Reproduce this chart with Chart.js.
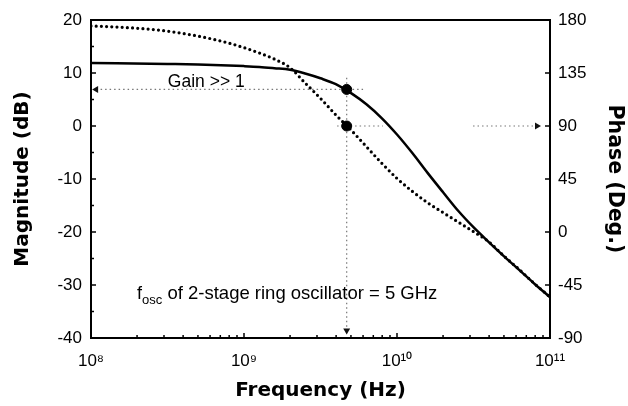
<!DOCTYPE html>
<html>
<head>
<meta charset="utf-8">
<script src="https://cdn.jsdelivr.net/npm/chart.js@4.4.1/dist/chart.umd.min.js"></script>
<style>
  html, body { margin: 0; padding: 0; background: #fff; }
  #wrap { width: 628px; height: 406px; }
</style>
</head>
<body>
<div id="wrap"><canvas id="c" width="628" height="406"></canvas></div>
<script>
// ---- Data ----
// Magnitude curve (solid, left axis, dB)
const magFreqHz = [1e8, 3.16e8, 5.0e8, 1e9, 1.26e9, 1.58e9, 2.0e9, 2.51e9, 3.16e9, 3.98e9, 5.01e9, 6.31e9, 7.94e9,
  1e10, 1.26e10, 1.58e10, 2.0e10, 2.51e10, 3.16e10, 3.98e10, 5.01e10, 6.31e10, 7.94e10, 1e11];
const magnitudeDb = [11.9, 11.7, 11.6, 11.3, 11.15, 10.9, 10.6, 9.9, 9.0, 7.9, 6.2, 4.1, 1.5,
  -1.6, -5.1, -8.8, -12.5, -16.0, -19.1, -21.9, -24.6, -27.2, -29.8, -32.3];

// Phase curve (dotted, right axis, degrees)
const phaseFreqHz = [1e8, 1.26e8, 1.58e8, 2.0e8, 2.51e8, 3.16e8, 3.98e8, 5.01e8, 6.31e8, 7.94e8,
  1e9, 1.26e9, 1.58e9, 2.0e9, 2.51e9, 3.16e9, 3.98e9, 5.01e9, 6.31e9, 7.94e9,
  1e10, 1.26e10, 1.58e10, 2.0e10, 2.51e10, 3.16e10, 3.98e10, 5.01e10, 6.31e10, 7.94e10, 1e11];
const phaseDeg = [175, 174.4, 173.8, 173.0, 172.0, 170.5, 168.6, 166.3, 163.6, 160.4,
  156.5, 152, 146.8, 139.5, 126.5, 113.5, 99.5, 86.5, 72.5, 58.5,
  45.5, 34.5, 25, 16.5, 8.5, 0.3, -8.3, -20.5, -32, -44, -55.2];

// Oscillation frequency markers
const oscFreqHz = [4.69e9];
const oscMagnitudeDb = [6.9];
const oscPhaseDeg = [90];

// Guide lines (dotted, with arrowheads)
const gainGuideFreqHz = [1.08e8, 6.0e9];
const gainGuideDb = [6.9, 6.9];
const phaseGuideFreqHz = [4.06e9, 8.09e9, null, 3.14e10, 8.22e10];
const phaseGuideDeg = [90, 90, null, 90, 90];
const oscGuideFreqHz = [4.69e9, 4.69e9];
const oscGuideDb = [9.1, -38.6];

// Axes
const xTickValues = [1e8, 1e9, 1e10, 1e11];
const xTickLabels = ['10\u2078', '10\u2079', '10\u00B9\u2070', '10\u00B9\u00B9'];
const magTickValues = [-40, -30, -20, -10, 0, 10, 20];
const phaseTickValues = [-90, -45, 0, 45, 90, 135, 180];

const toXY = (xs, ys) => xs.map((v, i) => (v === null ? {x: null, y: null} : {x: v, y: ys[i]}));

const TICK_FONT = {family: '"Liberation Sans", Arial, sans-serif', size: 17};
const TITLE_FONT = {family: '"DejaVu Sans", sans-serif', size: 20, weight: 'bold'};
const TITLE_FONT_R = {family: '"DejaVu Sans", sans-serif', size: 20.5, weight: 'bold'};

Chart.defaults.color = '#000';

const decor = {
  id: 'decor',
  afterDraw(chart) {
    const {ctx, chartArea: a, scales} = chart;
    const x = scales.x, y = scales.y, y2 = scales.y2;
    ctx.save();
    ctx.strokeStyle = '#000';
    ctx.lineWidth = 2;
    ctx.strokeRect(a.left, a.top, a.right - a.left, a.bottom - a.top);
    ctx.lineWidth = 1.5;
    const seg = (x1, y1, x2, y2_) => { ctx.beginPath(); ctx.moveTo(x1, y1); ctx.lineTo(x2, y2_); ctx.stroke(); };
    // left axis inner ticks
    for (let v = -35; v < 20; v += 5) {
      const py = y.getPixelForValue(v);
      seg(a.left, py, a.left + (v % 10 === 0 ? 5 : 3), py);
    }
    // right axis inner ticks
    for (let v = -45; v < 180; v += 45) {
      const py = y2.getPixelForValue(v);
      seg(a.right, py, a.right - 5, py);
    }
    // bottom axis inner ticks (log minor)
    for (let d = 8; d < 11; d++) {
      for (let k = 1; k < 10; k++) {
        const v = k * Math.pow(10, d);
        if (v <= 1e8) continue;
        const px = x.getPixelForValue(v);
        seg(px, a.bottom, px, a.bottom - (k === 1 ? 5 : 3));
      }
    }
    // annotations
    ctx.fillStyle = '#000';
    ctx.textBaseline = 'alphabetic';
    ctx.textAlign = 'left';
    ctx.font = '17.5px "Liberation Sans", Arial, sans-serif';
    ctx.fillText('Gain >> 1', x.getPixelForValue(3.18e8), y.getPixelForValue(7.3));
    let px = x.getPixelForValue(2.0e8);
    const py = y.getPixelForValue(-32.6);
    ctx.font = '18px "Liberation Sans", Arial, sans-serif';
    ctx.fillText('f', px, py);
    px += ctx.measureText('f').width;
    ctx.font = '13px "Liberation Sans", Arial, sans-serif';
    ctx.fillText('osc', px, py + 5);
    px += ctx.measureText('osc').width;
    ctx.font = '18.5px "Liberation Sans", Arial, sans-serif';
    ctx.fillText(' of 2-stage ring oscillator = 5 GHz', px, py);
    ctx.restore();
  }
};

const guideStyle = {
  borderColor: '#777',
  borderWidth: 1.2,
  borderDash: [1.5, 3],
  pointBackgroundColor: '#111',
  pointBorderColor: '#111',
  pointBorderWidth: 0,
  pointStyle: 'triangle',
  tension: 0,
  fill: false
};

new Chart(document.getElementById('c'), {
  type: 'line',
  data: {
    datasets: [
      {
        label: 'fosc magnitude',
        data: toXY(oscFreqHz, oscMagnitudeDb),
        yAxisID: 'y',
        showLine: false,
        pointRadius: 5,
        pointBackgroundColor: '#000',
        pointBorderColor: '#000'
      },
      {
        label: 'fosc phase',
        data: toXY(oscFreqHz, oscPhaseDeg),
        yAxisID: 'y2',
        showLine: false,
        pointRadius: 5,
        pointBackgroundColor: '#000',
        pointBorderColor: '#000'
      },
      {
        label: 'Magnitude',
        data: toXY(magFreqHz, magnitudeDb),
        yAxisID: 'y',
        borderColor: '#000',
        borderWidth: 2.5,
        pointRadius: 0,
        cubicInterpolationMode: 'monotone',
        fill: false
      },
      {
        label: 'Phase',
        data: toXY(phaseFreqHz, phaseDeg),
        yAxisID: 'y2',
        borderColor: '#000',
        borderWidth: 3.2,
        borderDash: [0, 5.2],
        borderCapStyle: 'round',
        pointRadius: 0,
        cubicInterpolationMode: 'monotone',
        fill: false
      },
      Object.assign({
        label: 'gain guide',
        data: toXY(gainGuideFreqHz, gainGuideDb),
        yAxisID: 'y',
        pointRadius: [4, 0],
        pointRotation: [270, 0]
      }, guideStyle),
      Object.assign({
        label: 'phase guide',
        data: toXY(phaseGuideFreqHz, phaseGuideDeg),
        yAxisID: 'y2',
        spanGaps: false,
        pointRadius: [0, 0, 0, 0, 4],
        pointRotation: [0, 0, 0, 0, 90]
      }, guideStyle),
      Object.assign({
        label: 'fosc guide',
        data: toXY(oscGuideFreqHz, oscGuideDb),
        yAxisID: 'y',
        pointRadius: [0, 4],
        pointRotation: [0, 180]
      }, guideStyle)
    ]
  },
  options: {
    responsive: false,
    animation: false,
    devicePixelRatio: 1,
    layout: {padding: {top: 20, left: 0, right: 0, bottom: 0}},
    plugins: {legend: {display: false}, tooltip: {enabled: false}},
    scales: {
      x: {
        type: 'logarithmic',
        position: 'bottom',
        min: 1e8,
        max: 1e11,
        grid: {display: false, drawTicks: false},
        border: {display: false},
        afterBuildTicks: (s) => { s.ticks = xTickValues.map(v => ({value: v})); },
        afterFit: (s) => { s.height = 68; },
        ticks: {
          font: TICK_FONT,
          padding: 13,
          maxRotation: 0,
          autoSkip: false,
          callback: (v) => { const i = xTickValues.indexOf(v); return i >= 0 ? xTickLabels[i] : ''; }
        },
        title: {display: true, text: 'Frequency (Hz)', font: TITLE_FONT, padding: {top: 0, bottom: 3}}
      },
      y: {
        type: 'linear',
        position: 'left',
        min: -40,
        max: 20,
        grid: {display: false, drawTicks: false},
        border: {display: false},
        afterBuildTicks: (s) => { s.ticks = magTickValues.map(v => ({value: v})); },
        afterFit: (s) => { s.width = 91; },
        ticks: {font: TICK_FONT, padding: 9},
        title: {display: true, text: 'Magnitude (dB)', font: TITLE_FONT, padding: {top: 11, bottom: 0}}
      },
      y2: {
        type: 'linear',
        position: 'right',
        min: -90,
        max: 180,
        grid: {display: false, drawTicks: false},
        border: {display: false},
        afterBuildTicks: (s) => { s.ticks = phaseTickValues.map(v => ({value: v})); },
        afterFit: (s) => { s.width = 78; },
        ticks: {font: TICK_FONT, padding: 8},
        title: {display: true, text: 'Phase (Deg.)', font: TITLE_FONT_R, padding: {top: 1, bottom: 0}}
      }
    }
  },
  plugins: [decor]
});
</script>
</body>
</html>
